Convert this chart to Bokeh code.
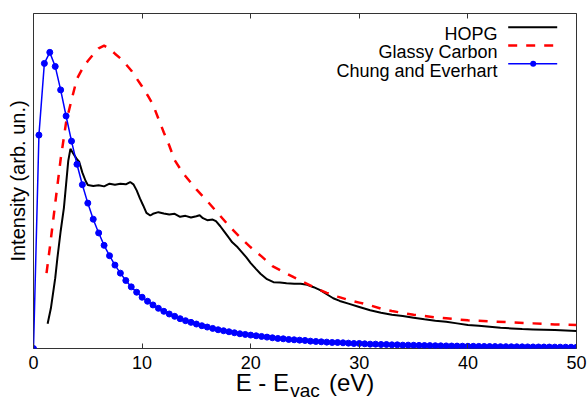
from bokeh.plotting import figure
from bokeh.models import Range1d, LinearAxis, FixedTicker, Label, Arrow, BoxAnnotation
from bokeh.embed import file_html
from bokeh.resources import INLINE

FONT = "Liberation Sans"

# ---- data ----
hopg_e = [1.3, 1.6, 2.0, 2.2, 2.5, 2.8, 3.0, 3.2, 3.4, 3.6, 3.8, 4.0, 4.2, 4.5, 4.8,
          5.0, 5.5, 6.0, 6.5, 7.0, 7.5, 8.0, 8.5, 8.9, 9.2, 9.5, 9.8, 10.1, 10.4, 10.75,
          11.0, 11.5, 12.0, 12.5, 13.0, 13.5, 14.0, 14.5, 15.0, 15.3, 15.6, 16.0, 16.5,
          16.8, 17.2, 17.5, 18.0, 18.3, 18.8, 19.2, 19.6, 20.0, 20.5, 20.9, 21.5, 22.1,
          22.7, 23.3, 24.0, 24.6, 25.2, 25.8, 26.4, 27.0, 27.6, 28.2, 29.0, 30.0, 31.0,
          32.0, 33.0, 34.0, 35.0, 36.0, 37.0, 38.0, 39.0, 40.0, 41.0, 42.0, 43.0, 44.0,
          45.0, 46.0, 47.0, 48.0, 49.0, 50.0]
hopg_i = [0.074, 0.12, 0.21, 0.27, 0.35, 0.42, 0.49, 0.56, 0.596, 0.585, 0.575, 0.565,
          0.558, 0.525, 0.50, 0.488, 0.485, 0.487, 0.484, 0.492, 0.489, 0.492, 0.490,
          0.497, 0.490, 0.472, 0.448, 0.427, 0.405, 0.397, 0.402, 0.407, 0.403, 0.400,
          0.402, 0.393, 0.396, 0.391, 0.395, 0.398, 0.389, 0.383, 0.385, 0.380, 0.365,
          0.352, 0.330, 0.317, 0.302, 0.287, 0.272, 0.255, 0.237, 0.223, 0.207, 0.198,
          0.197, 0.195, 0.193, 0.193, 0.190, 0.183, 0.174, 0.162, 0.150, 0.142, 0.134,
          0.124, 0.114, 0.107, 0.101, 0.097, 0.092, 0.087, 0.083, 0.080, 0.075, 0.070,
          0.068, 0.065, 0.062, 0.060, 0.058, 0.057, 0.056, 0.055, 0.054, 0.052]

gc_e = [1.2, 1.5, 2.0, 2.5, 3.0, 3.5, 4.0, 4.5, 5.0, 5.5, 6.0, 6.5, 7.0, 7.5, 8.0, 8.5,
        9.0, 9.5, 10.0, 10.5, 11.0, 11.5, 12.0, 12.5, 13.0, 13.5, 14.0, 15.0, 16.0, 17.0,
        18.0, 19.0, 20.0, 21.0, 22.0, 23.0, 24.0, 25.0, 26.0, 27.0, 28.0, 29.0, 30.0,
        31.0, 32.0, 33.0, 34.0, 35.0, 36.0, 37.0, 38.0, 39.0, 40.0, 42.0, 44.0, 46.0,
        48.0, 50.0]
gc_i = [0.225, 0.30, 0.433, 0.565, 0.675, 0.742, 0.805, 0.835, 0.858, 0.878, 0.896,
        0.904, 0.895, 0.880, 0.866, 0.849, 0.830, 0.806, 0.782, 0.756, 0.728, 0.686,
        0.645, 0.606, 0.562, 0.537, 0.514, 0.475, 0.440, 0.403, 0.366, 0.333, 0.302,
        0.275, 0.246, 0.229, 0.212, 0.196, 0.180, 0.166, 0.155, 0.145, 0.137, 0.129,
        0.119, 0.112, 0.106, 0.101, 0.097, 0.093, 0.090, 0.087, 0.084, 0.081, 0.078,
        0.075, 0.072, 0.070]

ce_e = [0.0, 0.5, 1.0, 1.5, 2.0, 2.5, 3.0, 3.5, 4.0, 4.5, 5.0, 5.5, 6.0, 6.5, 7.0, 7.5,
        8.0, 8.5, 9.0, 9.5, 10.0, 10.5, 11.0, 11.5, 12.0, 12.5, 13.0, 13.5, 14.0, 14.5,
        15.0, 15.5, 16.0, 16.5, 17.0, 17.5, 18.0, 18.5, 19.0, 19.5, 20.0, 20.5, 21.0,
        21.5, 22.0, 22.5, 23.0, 23.5, 24.0, 24.5, 25.0, 25.5, 26.0, 26.5, 27.0, 27.5,
        28.0, 28.5, 29.0, 29.5, 30.0, 30.5, 31.0, 31.5, 32.0, 32.5, 33.0, 33.5, 34.0,
        34.5, 35.0, 35.5, 36.0, 36.5, 37.0, 37.5, 38.0, 38.5, 39.0, 39.5, 40.0, 40.5,
        41.0, 41.5, 42.0, 42.5, 43.0, 43.5, 44.0, 44.5, 45.0, 45.5, 46.0, 46.5, 47.0,
        47.5, 48.0, 48.5, 49.0, 49.5, 50.0]
ce_i = [0.0, 0.637, 0.851, 0.884, 0.842, 0.772, 0.694, 0.619, 0.550, 0.489, 0.434,
        0.386, 0.345, 0.308, 0.277, 0.249, 0.225, 0.203, 0.184, 0.168, 0.153, 0.141,
        0.130, 0.120, 0.111, 0.103, 0.096, 0.089, 0.083, 0.078, 0.073, 0.068, 0.064,
        0.060, 0.056, 0.053, 0.050, 0.047, 0.044, 0.042, 0.040, 0.038, 0.036, 0.034,
        0.032, 0.030, 0.029, 0.027, 0.026, 0.025, 0.024, 0.022, 0.021, 0.020, 0.019,
        0.018, 0.018, 0.017, 0.016, 0.015, 0.015, 0.014, 0.013, 0.013, 0.012, 0.012,
        0.011, 0.011, 0.010, 0.010, 0.0097, 0.0093, 0.0089, 0.0086, 0.0083, 0.0080,
        0.0077, 0.0074, 0.0072, 0.0069, 0.0067, 0.0065, 0.0063, 0.0061, 0.0059, 0.0057,
        0.0055, 0.0054, 0.0052, 0.0051, 0.0049, 0.0048, 0.0046, 0.0045, 0.0044, 0.0043,
        0.0041, 0.0040, 0.0039, 0.0038, 0.0037]

x_ticks = [0, 10, 20, 30, 40, 50]
series_names = ["HOPG", "Glassy Carbon", "Chung and Everhart"]
series_colors = ["black", "#ff0000", "#0000ff"]
x_label_main = "E - E" + "\u00a0" * 6 + "(eV)"
x_label_sub = "vac"
y_label = "Intensity (arb. un.)"

# ---- figure ----
p = figure(width=587, height=403, output_backend="svg", toolbar_location=None,
           x_range=Range1d(0, 50), y_range=Range1d(0, 1),
           min_border_left=33, min_border_right=11, min_border_top=13,
           min_border_bottom=55)
p.grid.visible = False
p.outline_line_color = "#333333"
p.outline_line_width = 1
p.background_fill_color = "white"
p.border_fill_color = "white"

# bottom axis: tick numbers, and the subscript "vac" as its axis label
xa = p.xaxis[0]
xa.ticker = FixedTicker(ticks=x_ticks)
xa.major_tick_in = 5
xa.major_tick_out = 0
xa.minor_tick_in = 0
xa.minor_tick_out = 0
xa.axis_line_color = None
xa.major_tick_line_color = "#333333"
xa.major_label_text_font = FONT
xa.major_label_text_font_size = "18px"
xa.major_label_text_color = "black"
xa.major_label_standoff = 7
xa.axis_label = x_label_sub
xa.axis_label_text_font = FONT
xa.axis_label_text_font_size = "19px"
xa.axis_label_text_font_style = "normal"
xa.axis_label_text_color = "black"
xa.axis_label_standoff = 8

# second bottom axis carrying the main label, pulled up beside the subscript
main_ax = LinearAxis(ticker=FixedTicker(ticks=[]), major_tick_in=0, major_tick_out=0,
                     minor_tick_in=0, minor_tick_out=0, axis_line_color=None,
                     major_label_standoff=0, axis_label=x_label_main,
                     axis_label_text_font=FONT, axis_label_text_font_size="24px",
                     axis_label_text_font_style="normal", axis_label_text_color="black",
                     axis_label_standoff=-35)
p.add_layout(main_ax, "below")

ya = p.yaxis[0]
ya.ticker = FixedTicker(ticks=[])
ya.major_tick_in = 0
ya.major_tick_out = 0
ya.minor_tick_in = 0
ya.minor_tick_out = 0
ya.axis_line_color = None
ya.major_label_standoff = 0
ya.axis_label = y_label
ya.axis_label_text_font = FONT
ya.axis_label_text_font_size = "20px"
ya.axis_label_text_font_style = "normal"
ya.axis_label_text_color = "black"
ya.axis_label_standoff = 5

top = LinearAxis(ticker=FixedTicker(ticks=x_ticks), major_tick_in=5, major_tick_out=0,
                 minor_tick_in=0, minor_tick_out=0, axis_line_color=None,
                 major_tick_line_color="#333333", major_label_standoff=0,
                 major_label_overrides={t: "" for t in x_ticks})
p.add_layout(top, "above")

# ---- series ----
p.line(hopg_e, hopg_i, line_color=series_colors[0], line_width=2)
p.line(gc_e, gc_i, line_color=series_colors[1], line_width=2.5, line_dash="9 9")
p.line(ce_e, ce_i, line_color=series_colors[2], line_width=1.5)
p.scatter(ce_e, ce_i, size=6, fill_color=series_colors[2], line_color=series_colors[2])

# ---- key (gnuplot style: text right, sample left) ----
key_text_y = [314.5, 296.3, 278.0]
key_line_y = [321.3, 303.0, 284.7]
key_dash = [None, "9 9", None]
key_width = [2, 2.5, 1.5]
for name, col, ty, ly, dash, lw in zip(series_names, series_colors, key_text_y,
                                       key_line_y, key_dash, key_width):
    p.add_layout(Label(x=464, y=ty, text=name, x_units="screen", y_units="screen",
                       text_font=FONT, text_font_size="18px", text_color="black",
                       text_align="right", text_baseline="alphabetic"))
    arrow_kw = dict(x_start=474.7, y_start=ly, x_end=523.7, y_end=ly,
                    start_units="screen", end_units="screen", start=None, end=None,
                    line_color=col, line_width=lw)
    if dash:
        arrow_kw["line_dash"] = dash
    p.add_layout(Arrow(**arrow_kw))
p.add_layout(BoxAnnotation(left=496.7, right=502.7, bottom=key_line_y[2] - 3,
                           top=key_line_y[2] + 3, left_units="screen",
                           right_units="screen", bottom_units="screen",
                           top_units="screen", fill_color=series_colors[2],
                           fill_alpha=1, line_color=None, border_radius=3))

open("out.html", "w").write(file_html(p, INLINE))
